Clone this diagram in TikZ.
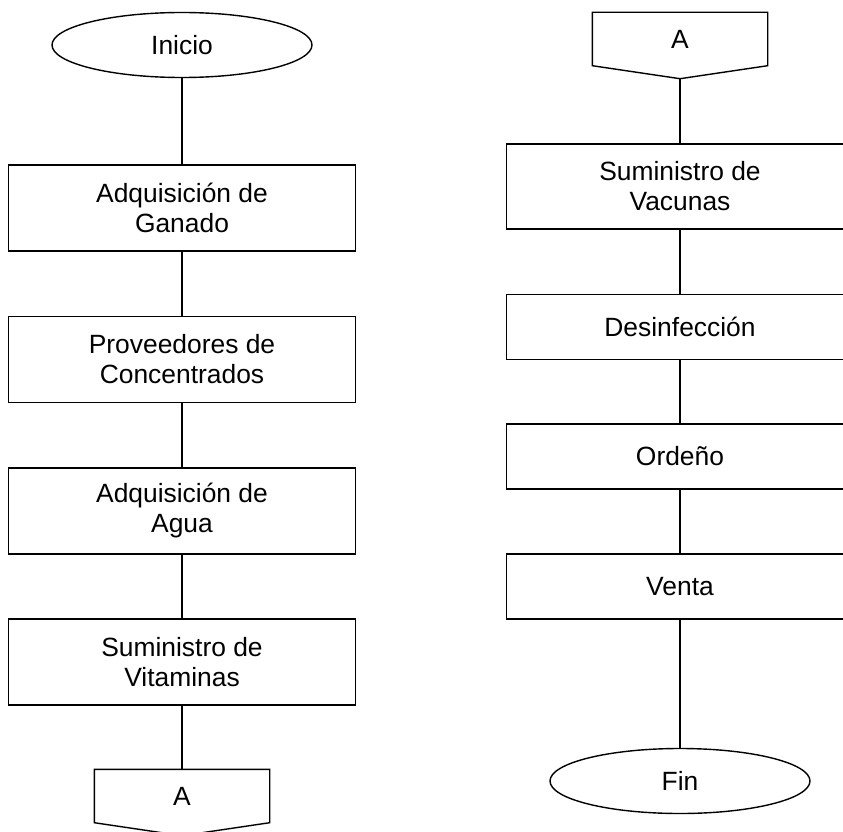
\documentclass[tikz,border=0pt]{standalone}
\usepackage{fontspec}
\setmainfont{Liberation Sans}
\usetikzlibrary{shapes.geometric}
\tikzset{
  paso/.style={draw, line width=1.4pt, minimum width=347pt, minimum height=86pt,
    inner sep=0pt, align=center, font=\fontsize{26.4}{30}\selectfont},
  pasocorto/.style={paso, minimum height=65pt},
  terminal/.style={draw, ellipse, line width=1.4pt, minimum width=260pt, minimum height=65pt,
    inner sep=0pt, font=\fontsize{26.4}{30}\selectfont},
  conector/.style={minimum width=174pt, minimum height=52pt, inner sep=0pt,
    font=\fontsize{26.4}{30}\selectfont},
}
\begin{document}
\begin{tikzpicture}[x=1pt, y=-1pt, line width=1.4pt]
  \useasboundingbox (0,0) rectangle (843,832);
  \clip (0,0) rectangle (843,832);
  % columna izquierda
  \node[terminal] (inicio) at (182,45) {Inicio};
  \node[paso] (ganado) at (182,208) {Adquisición de\\Ganado};
  \node[paso] (concentrados) at (182,359.5) {Proveedores de\\Concentrados};
  \node[paso] (agua) at (182,511) {Adquisición de\\Agua};
  \node[paso] (vitaminas) at (182,662) {Suministro de\\Vitaminas};
  \node[conector] (conA) at (182,796) {A};
  \coordinate (puntaA) at ([yshift=-13pt]conA.south);
  % columna derecha
  \node[conector] (conB) at (680,39) {A};
  \coordinate (puntaB) at ([yshift=-13pt]conB.south);
  \node[paso, minimum height=85pt] (vacunas) at (680,186.5) {Suministro de\\Vacunas};
  \node[pasocorto] (desinfeccion) at (680,327) {Desinfección};
  \node[pasocorto] (ordeno) at (680,456.5) {Ordeño};
  \node[pasocorto] (venta) at (680,586.5) {Venta};
  \node[terminal] (fin) at (680,781) {Fin};
  \draw (conA.north west) -- (conA.north east) -- (conA.south east) -- (puntaA)
        -- (conA.south west) -- cycle;
  \draw (conB.north west) -- (conB.north east) -- (conB.south east) -- (puntaB)
        -- (conB.south west) -- cycle;
  \draw (inicio) -- (ganado) -- (concentrados) -- (agua) -- (vitaminas) -- (conA);
  \draw (puntaB) -- (vacunas) -- (desinfeccion) -- (ordeno) -- (venta) -- (fin);
\end{tikzpicture}
\end{document}
